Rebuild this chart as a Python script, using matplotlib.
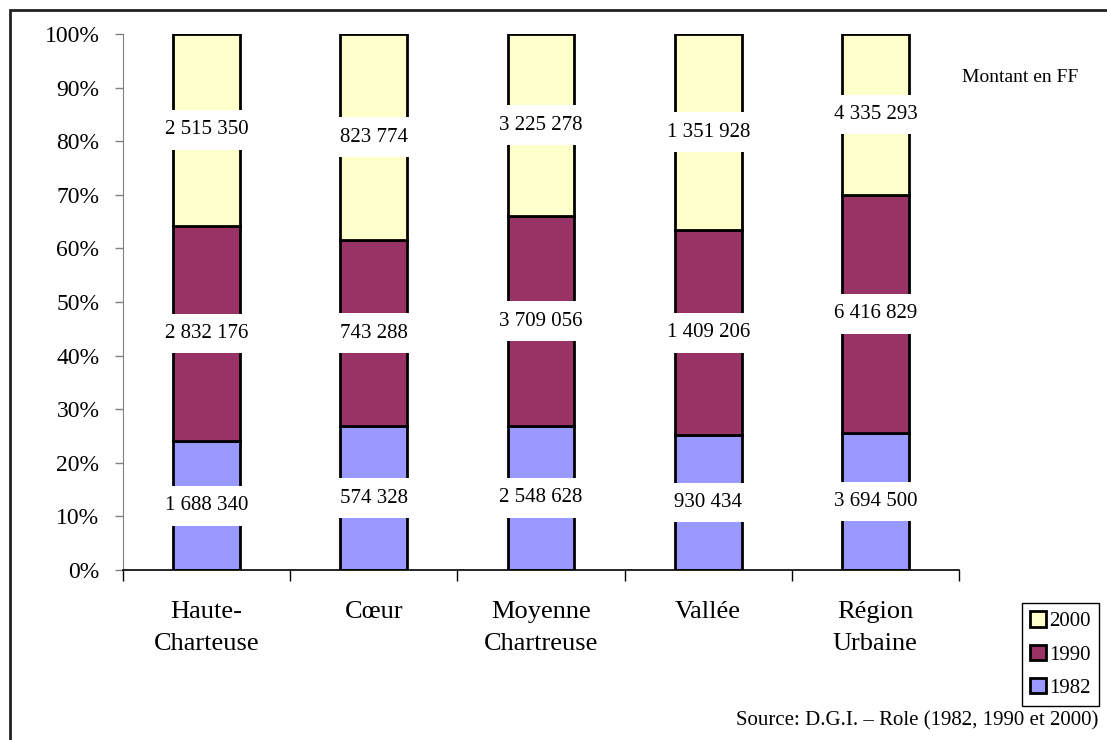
import numpy as np
import matplotlib
matplotlib.use('Agg')
import matplotlib.pyplot as plt
import matplotlib.ticker as ticker
from matplotlib.patches import Rectangle

plt.rcParams['font.family'] = ['Liberation Serif', 'DejaVu Serif']

categories = ['Haute-\nCharteuse', 'Cœur', 'Moyenne\nChartreuse', 'Vallée', 'Région\nUrbaine']
v1982 = [1688340, 574328, 2548628, 930434, 3694500]
v1990 = [2832176, 743288, 3709056, 1409206, 6416829]
v2000 = [2515350, 823774, 3225278, 1351928, 4335293]
series = [('1982', v1982, '#9999FF'), ('1990', v1990, '#993366'), ('2000', v2000, '#FFFFCC')]

tot = np.array(v1982) + np.array(v1990) + np.array(v2000)
x = np.arange(len(categories))

fig = plt.figure(figsize=(11.07, 7.40), dpi=100)
ax = fig.add_axes([123/1107, 170/740, (959-123)/1107, (570-34)/740])

bottom = np.zeros(len(categories))
handles = {}
for name, vals, col in series:
    pct = np.array(vals) / tot * 100
    b = ax.bar(x, pct, 0.4, bottom=bottom, color=col, edgecolor='black', linewidth=2, zorder=2)
    handles[name] = b
    # etiquette centree dans chaque segment, fond blanc
    for xi, yi, p, v in zip(x, bottom, pct, vals):
        lab = f'{v:,}'.replace(',', ' ')
        ax.text(xi, yi + p / 2, lab, ha='center', va='center', fontsize=15, zorder=3,
                bbox=dict(boxstyle='square,pad=0.5', fc='white', ec='none'))
    bottom += pct

ax.set_xlim(-0.5, len(categories) - 0.5)
ax.set_ylim(0, 100)
ax.yaxis.set_major_locator(ticker.MultipleLocator(10))
ax.yaxis.set_major_formatter(ticker.FuncFormatter(lambda v, p: f'{v:.0f}%'))
ax.tick_params(axis='y', labelsize=17, length=6, width=1, color='#808080', pad=11)

ax.set_xticks(np.arange(len(categories) + 1) - 0.5)
ax.set_xticklabels([])
ax.tick_params(axis='x', which='major', length=8, width=1, direction='out')
ax.set_xticks(x, minor=True)
ax.set_xticklabels(categories, minor=True, fontsize=19, linespacing=1.6)
ax.tick_params(axis='x', which='minor', length=0, pad=22)

for s in ['top', 'right']:
    ax.spines[s].set_visible(False)
ax.spines['left'].set_color('#808080')
ax.spines['bottom'].set_color('black')
ax.spines['bottom'].set_linewidth(1.2)

leg = fig.legend([handles['2000'], handles['1990'], handles['1982']], ['2000', '1990', '1982'],
                 loc='upper left', bbox_to_anchor=(1022/1107, 1 - 603/740), fontsize=15,
                 frameon=True, fancybox=False, edgecolor='black', framealpha=1,
                 handlelength=0.75, handleheight=0.75, handletextpad=0.15,
                 labelspacing=0.65, borderpad=0.4, borderaxespad=0)
leg.get_frame().set_linewidth(1)

fig.text(962/1107, 1 - 78/740, 'Montant en FF', fontsize=14, ha='left', va='center')
fig.text(1098/1107, 1 - 721/740, 'Source: D.G.I. – Role (1982, 1990 et 2000)',
         fontsize=15, ha='right', va='center')

# cadre exterieur
fig.patches.append(Rectangle((10/1107, -0.1), 1.2, 1.1 - 10/740, transform=fig.transFigure,
                             fill=False, edgecolor='#222222', linewidth=2))

fig.savefig('out.png', dpi=100)
